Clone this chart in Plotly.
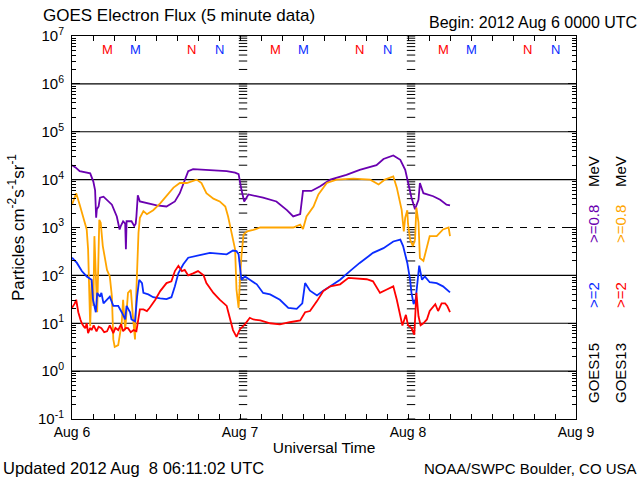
import plotly.graph_objects as go
import pandas as pd

# ---------------- data (hours since 2012-08-06 00:00 UT, particle flux) ----------------
g15_08_hours = [0, 0.5, 1.1, 2.0, 2.6, 3.05, 3.3, 3.45, 3.55, 3.8, 4.0, 4.5, 5.2, 5.7, 6.4, 6.8, 7.0, 7.3,
                7.6, 7.7, 7.8, 8.5, 8.9, 9.1, 9.2, 9.4, 9.7, 10.7, 12.1, 13.5, 14.7, 15.4, 15.9, 16.6, 17.3,
                19.7, 22.1, 23.3, 23.8, 24.2, 24.6, 25.2, 27.3, 29.2, 30.7, 31.6, 32.6, 33.0, 34.2, 35.4,
                36.9, 39.2, 41.1, 43.5, 44.5, 45.9, 46.9, 47.6, 48.0, 48.5, 49.0, 49.5, 49.7, 50.2, 51.6,
                52.6, 53.5, 54.0]
g15_08_flux = [2.0e4, 1.8e4, 1.5e4, 1.4e4, 1.35e4, 9.1e3, 6.0e3, 1.6e3, 2.4e3, 2.75e3, 4.2e3, 4.4e3, 3.5e3,
               3.0e3, 1.7e3, 910, 1.1e3, 1.35e3, 1.2e3, 350, 1.35e3, 1.35e3, 1.07e3, 1.2e3, 1.7e3, 4.7e3,
               3.5e3, 3.2e3, 2.9e3, 2.75e3, 3.5e3, 5.2e3, 7.9e3, 1.5e4, 1.66e4, 1.6e4, 1.5e4, 1.4e4, 1.3e4,
               6.2e3, 3.5e3, 4.9e3, 4.2e3, 3.5e3, 2.3e3, 1.7e3, 1.9e3, 5.8e3, 5.8e3, 7.2e3, 1.0e4, 1.26e4,
               1.6e4, 2.0e4, 2.7e4, 3.2e4, 2.6e4, 1.6e4, 8.5e3, 4.2e3, 2.4e3, 3.8e3, 8.5e3, 5.2e3, 4.5e3,
               3.8e3, 3.0e3, 2.9e3]

g13_08_hours = [0, 0.4, 0.6, 1.1, 1.6, 2.1, 2.3, 2.5, 2.6, 2.8, 3.05, 3.2, 3.4, 3.6, 3.9, 4.1, 4.4, 4.7,
                5.0, 5.4, 5.7, 5.9, 6.1, 6.6, 7.1, 7.3, 7.6, 8.0, 8.4, 8.7, 9.0, 9.2, 9.5, 9.7, 10.2, 10.7,
                11.6, 12.6, 13.5, 14.5, 15.4, 16.4, 17.8, 18.5, 19.2, 20.2, 21.1, 21.9, 22.3, 22.7, 23.0,
                23.3, 23.5, 23.8, 24.0, 24.2, 24.5, 25.0, 25.9, 26.9, 29.7, 31.6, 32.6, 33.0, 33.5, 34.5,
                35.2, 36.4, 37.8, 40.2, 42.6, 43.8, 44.7, 45.9, 46.4, 46.8, 47.1, 47.4, 47.6, 47.9, 48.0,
                48.3, 48.7, 49.0, 49.2, 49.5, 49.7, 50.2, 50.7, 51.1, 52.1, 52.6, 53.0, 53.8, 54.0]
g13_08_flux = [3.0e3, 4.2e3, 5.2e3, 3.0e3, 1.7e3, 910, 350, 50, 8.7, 81, 23, 660, 69, 17, 1.45e3, 1.26e3,
               410, 210, 130, 95, 36, 4.6, 3.2, 3.5, 10, 31, 7.2, 43, 50, 14, 4.6, 50, 780, 1.6e3, 2.2e3,
               1.9e3, 2.3e3, 3.2e3, 4.7e3, 6.8e3, 8.5e3, 8.5e3, 1.0e4, 8.5e3, 5.2e3, 4.0e3, 3.5e3, 2.75e3,
               1.7e3, 910, 560, 350, 50, 21, 80, 250, 710, 830, 890, 1.0e3, 1.0e3, 1.0e3, 1.15e3, 930,
               1.7e3, 2.75e3, 4.9e3, 8.5e3, 1.0e4, 1.05e4, 1.0e4, 7.9e3, 1.0e4, 1.17e4, 6.8e3, 3.5e3,
               2.3e3, 830, 1.6e3, 2.3e3, 1.2e3, 560, 410, 560, 2.6e3, 1.26e3, 230, 200, 410, 660, 660,
               780, 910, 1.0e3, 660]

g15_2_hours = [0, 0.7, 1.4, 2.1, 2.8, 3.0, 3.4, 3.6, 4.0, 4.2, 4.5, 5.0, 5.4, 5.9, 6.6, 7.1, 7.6, 7.8,
               8.3, 8.5, 9.0, 9.3, 9.6, 10.0, 10.2, 10.9, 11.6, 12.6, 13.5, 14.2, 14.7, 15.2, 15.9, 16.6,
               17.3, 19.7, 22.1, 23.0, 23.5, 23.8, 24.2, 24.7, 25.4, 26.4, 27.3, 28.3, 29.7, 30.9, 32.1,
               32.9, 33.3, 34.0, 35.0, 35.9, 36.9, 38.3, 39.7, 41.1, 43.0, 44.5, 45.9, 46.9, 47.3, 47.9,
               48.3, 48.5, 48.8, 49.1, 49.6, 50.0, 50.4, 51.1, 52.1, 53.0, 54.0]
g15_2_flux = [234, 182, 123, 95, 81, 31, 17, 43, 36, 43, 26, 31, 36, 23, 23, 17, 12, 23, 17, 12, 11, 36,
              81, 69, 43, 40, 35, 33, 32, 35, 59, 112, 170, 234, 245, 295, 275, 330, 320, 275, 81, 95, 81,
              65, 43, 40, 31, 21, 20, 26, 69, 48, 38, 48, 59, 81, 123, 182, 295, 370, 510, 560, 410, 182,
              81, 43, 25, 32, 160, 81, 95, 72, 69, 59, 44]

g13_2_hours = [0, 0.4, 0.6, 0.9, 1.2, 1.4, 1.7, 1.9, 2.1, 2.3, 2.6, 2.8, 3.1, 3.5, 3.8, 4.2, 4.6, 5.0,
               5.4, 5.9, 6.2, 6.6, 7.0, 7.3, 7.7, 8.0, 8.4, 8.8, 9.2, 9.5, 9.7, 10.2, 10.7, 11.1, 11.9,
               12.6, 13.5, 14.2, 14.7, 15.2, 15.7, 16.1, 16.6, 17.3, 18.0, 18.8, 19.2, 20.2, 21.1, 22.1,
               22.6, 23.0, 23.5, 24.0, 24.7, 25.4, 25.9, 26.9, 28.3, 29.7, 31.1, 32.6, 33.3, 34.0, 35.0,
               35.9, 36.9, 38.3, 39.5, 40.9, 42.1, 43.0, 44.0, 44.9, 45.9, 46.4, 46.8, 47.2, 47.7, 48.0,
               48.5, 48.9, 49.2, 49.5, 49.8, 50.2, 50.7, 51.1, 51.9, 52.3, 52.8, 53.3, 53.6, 53.8, 54.0]
g13_2_flux = [21, 26, 31, 17, 12, 10, 8.5, 7.9, 10, 6.2, 8, 7.2, 9, 6.8, 8.5, 7.9, 6.5, 6.8, 9, 6.2, 8,
              7.2, 9.5, 6.8, 8, 7.9, 6.5, 7.2, 6.8, 12, 19.5, 19.5, 18, 21, 31, 47, 69, 75, 123, 158, 123,
              130, 100, 110, 123, 100, 69, 43, 31, 23, 12, 7.2, 5.2, 7.5, 9.5, 13, 12, 11.5, 10, 9.5, 10.5,
              11.5, 17, 18, 29, 47, 59, 65, 89, 85, 83, 75, 43, 50, 59, 31, 17, 9, 15, 9.1, 7.9, 5.8, 43,
              14, 9.1, 10, 12, 18, 25, 18, 26, 26, 23, 19, 17]

day_labels = ["Aug 6", "Aug 7", "Aug 8", "Aug 9"]
decades = [-1, 0, 1, 2, 3, 4, 5, 6, 7]

# local midnight (M) / noon (N) markers, hours UT
mn_hours = [5, 9, 17, 21, 29, 33, 41, 45, 53, 57, 65, 69]
mn_text = ["M", "M", "N", "N", "M", "M", "N", "N", "M", "M", "N", "N"]
mn_sat = ["13", "15", "13", "15", "13", "15", "13", "15", "13", "15", "13", "15"]

# ---------------- figure ----------------
base = pd.Timestamp("2012-08-06")
def t(hours):
    return [base + pd.Timedelta(hours=h) for h in hours]

day_dates = [base + pd.Timedelta(days=i) for i in range(len(day_labels))]

C_PURPLE = "#6a00b0"
C_ORANGE = "#ffa500"
C_BLUE = "#0a2cff"
C_RED = "#ff0000"
sat_color = {"13": C_RED, "15": C_BLUE}

L, R, T, B = 72, 576, 36, 419
W, H = 640, 480
def px(x):
    return (x - L) / (R - L)
def py(y):
    return (B - y) / (B - T)

fig = go.Figure()

# horizontal decade lines (10^3 dashed)
for d in decades[1:-1]:
    fig.add_trace(go.Scatter(
        x=[day_dates[0], day_dates[-1]], y=[10 ** d, 10 ** d], mode="lines",
        line=dict(color="black", width=1.2, dash="7px,7px" if d == 3 else "solid"),
        hoverinfo="skip", showlegend=False))

# log tick columns at interior day boundaries
col_y = [m * 10 ** d for d in decades[:-1] for m in range(1, 10)] + [10 ** decades[-1]]
for dd in day_dates[1:-1]:
    fig.add_trace(go.Scatter(
        x=[dd + pd.Timedelta(minutes=26)] * len(col_y), y=col_y, mode="markers",
        marker=dict(symbol="line-ew", size=6, line=dict(color="black", width=1)),
        hoverinfo="skip", showlegend=False))

series = [
    (g15_08_hours, g15_08_flux, C_PURPLE),
    (g13_08_hours, g13_08_flux, C_ORANGE),
    (g15_2_hours, g15_2_flux, C_BLUE),
    (g13_2_hours, g13_2_flux, C_RED),
]
for hrs, flux, col in series:
    fig.add_trace(go.Scatter(x=t(hrs), y=flux, mode="lines",
                             line=dict(color=col, width=1.8), showlegend=False))

FONT = "Liberation Sans"
fig.update_layout(
    width=W, height=H,
    margin=dict(l=L, r=W - R, t=T, b=H - B),
    paper_bgcolor="white", plot_bgcolor="white",
    font=dict(family=FONT, color="black", size=14),
    showlegend=False,
)
fig.update_xaxes(
    type="date", range=[day_dates[0], day_dates[-1]],
    tickmode="array", tickvals=day_dates, ticktext=day_labels,
    ticks="inside", ticklen=5, tickcolor="black", tickwidth=1,
    showline=True, linecolor="black", linewidth=1, mirror="ticks",
    showgrid=False, zeroline=False,
    minor=dict(dtick=3 * 3600 * 1000, ticks="inside", ticklen=5, tickcolor="black", showgrid=False),
    tickfont=dict(size=14, family=FONT),
    title=dict(text="Universal Time", font=dict(size=15.5, family=FONT), standoff=3),
)
fig.update_yaxes(
    type="log", range=[decades[0], decades[-1]],
    tickmode="array", tickvals=[10 ** d for d in decades],
    ticktext=["10<sup>%d</sup>" % d for d in decades],
    ticks="inside", ticklen=8, tickcolor="black", tickwidth=1,
    showline=True, linecolor="black", linewidth=1, mirror="ticks",
    showgrid=False, zeroline=False,
    minor=dict(dtick="D1", ticks="inside", ticklen=4, tickcolor="black", showgrid=False),
    tickfont=dict(size=15, family=FONT),
    ticklabelstandoff=4,
    title=dict(text="Particles cm<sup>-2</sup>s<sup>-1</sup>sr<sup>-1</sup>",
               font=dict(size=17, family=FONT), standoff=9),
)

ann = []
ann.append(dict(text="GOES Electron Flux (5 minute data)", x=px(41), y=py(15),
                xanchor="left", yanchor="middle", font=dict(size=17)))
ann.append(dict(text="Begin: 2012 Aug 6 0000 UTC", x=px(639), y=py(22),
                xanchor="right", yanchor="middle", font=dict(size=16)))
ann.append(dict(text="Updated 2012 Aug  8 06:11:02 UTC", x=px(1), y=py(468),
                xanchor="left", yanchor="middle", font=dict(size=16.5)))
ann.append(dict(text="NOAA/SWPC Boulder, CO USA", x=px(639), y=py(468),
                xanchor="right", yanchor="middle", font=dict(size=15)))

for h, s, sat in zip(mn_hours, mn_text, mn_sat):
    ann.append(dict(text=s, x=base + pd.Timedelta(hours=h), xref="x", y=py(50),
                    xanchor="center", yanchor="middle",
                    font=dict(size=13, color=sat_color[sat])))

# right-hand rotated labels
right_cols = [
    (593, [("GOES15", "black", 373), (">=2", C_BLUE, 295), (">=0.8", C_PURPLE, 224), ("MeV", "black", 172)]),
    (620, [("GOES13", "black", 373), (">=2", C_RED, 295), (">=0.8", C_ORANGE, 224), ("MeV", "black", 172)]),
]
for xc, parts in right_cols:
    for txt, col, yc in parts:
        ann.append(dict(text=txt, x=px(xc), y=py(yc), textangle=-90,
                        xanchor="center", yanchor="middle", font=dict(size=15, color=col)))

for a in ann:
    a.setdefault("xref", "paper")
    a.setdefault("yref", "paper")
    a["showarrow"] = False
fig.update_layout(annotations=ann)

fig.write_html("out.html", config={"displayModeBar": False},
               post_script="document.body.style.margin='0';document.body.style.overflow='hidden';")
